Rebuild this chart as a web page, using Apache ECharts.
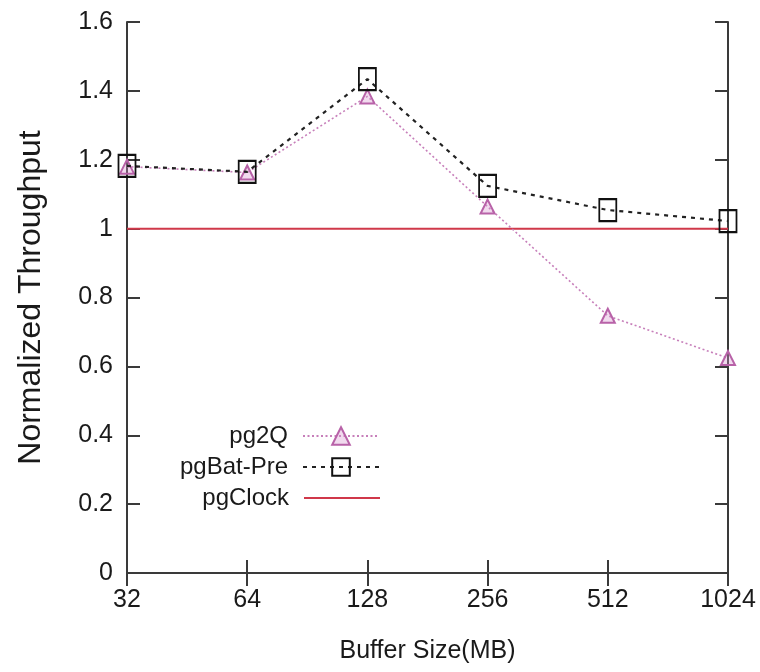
<!DOCTYPE html>
<html>
<head>
<meta charset="utf-8">
<script src="https://cdn.jsdelivr.net/npm/echarts@6/dist/echarts.min.js"></script>
<style>
html,body{margin:0;padding:0;background:#fff;}
#c{width:760px;height:672px;}
</style>
</head>
<body>
<div id="c"></div>
<script>
var categories = ['32', '64', '128', '256', '512', '1024'];
var pg2Q = [1.18, 1.163, 1.384, 1.064, 0.747, 0.624];
var pgBatPre = [1.182, 1.165, 1.434, 1.124, 1.054, 1.022];
var pgClock = [1, 1, 1, 1, 1, 1];
var yTicks = { min: 0, max: 1.6, interval: 0.2 };

var FONT = 'Liberation Sans';
var axisColor = '#3a3a3a';
var textColor = '#1a1a1a';

var chart = echarts.init(document.getElementById('c'), null, { renderer: 'canvas' });

function legendFor(name, top, extra) {
  var l = {
    data: [name],
    right: 380,
    top: top,
    orient: 'vertical',
    align: 'right',
    itemWidth: 76,
    itemHeight: 22,
    padding: 0,
    textStyle: { fontFamily: FONT, fontSize: 24, color: textColor, padding: [0, 10, 0, 0] },
    selectedMode: false
  };
  if (extra) { for (var k in extra) { l[k] = extra[k]; } }
  return l;
}

var option = {
  animation: false,
  backgroundColor: '#fff',
  grid: { left: 127, right: 32, top: 22, bottom: 99, outerBoundsMode: 'none', containLabel: false },
  legend: [
    legendFor('pg2Q', 424),
    legendFor('pgBat-Pre', 455),
    legendFor('pgClock', 486, { itemHeight: 2, data: [{ name: 'pgClock', icon: 'rect' }] })
  ],
  xAxis: [
    {
      type: 'category',
      data: categories,
      boundaryGap: false,
      position: 'bottom',
      name: 'Buffer Size(MB)',
      nameLocation: 'middle',
      nameGap: 66,
      nameTextStyle: { fontFamily: FONT, fontSize: 25, color: textColor },
      axisLine: { show: true, lineStyle: { color: axisColor, width: 2 } },
      axisTick: { show: true, inside: true, length: 13, lineStyle: { color: axisColor, width: 2 } },
      axisLabel: { fontFamily: FONT, fontSize: 25, color: textColor, margin: 15 },
      splitLine: { show: false }
    },
    {
      type: 'category',
      data: categories,
      boundaryGap: false,
      position: 'top',
      axisLine: { show: true, lineStyle: { color: axisColor, width: 2 } },
      axisTick: { show: true, inside: true, length: 13, lineStyle: { color: axisColor, width: 2 } },
      axisLabel: { show: false },
      splitLine: { show: false }
    }
  ],
  yAxis: [
    {
      type: 'value',
      min: yTicks.min,
      max: yTicks.max,
      interval: yTicks.interval,
      position: 'left',
      name: 'Normalized Throughput',
      nameLocation: 'middle',
      nameGap: 80,
      nameRotate: 90,
      nameTextStyle: { fontFamily: FONT, fontSize: 32, color: textColor },
      axisLine: { show: true, lineStyle: { color: axisColor, width: 2 } },
      axisTick: { show: true, inside: true, length: 13, lineStyle: { color: axisColor, width: 2 } },
      axisLabel: { fontFamily: FONT, fontSize: 25, color: textColor, margin: 14 },
      splitLine: { show: false }
    },
    {
      type: 'value',
      min: yTicks.min,
      max: yTicks.max,
      interval: yTicks.interval,
      position: 'right',
      axisLine: { show: true, lineStyle: { color: axisColor, width: 2 } },
      axisTick: { show: true, inside: true, length: 13, lineStyle: { color: axisColor, width: 2 } },
      axisLabel: { show: false },
      splitLine: { show: false }
    }
  ],
  series: [
    {
      name: 'pgClock',
      type: 'line',
      data: pgClock,
      showSymbol: false,
      symbol: 'none',
      z: 1,
      lineStyle: { color: '#d0384a', width: 2, type: 'solid' },
      itemStyle: { color: '#d0384a' }
    },
    {
      name: 'pg2Q',
      type: 'line',
      data: pg2Q,
      symbol: 'triangle',
      symbolSize: [14, 14],
      z: 2,
      lineStyle: { color: '#c77fba', width: 1.6, type: [2, 2.5] },
      itemStyle: { color: 'rgba(214,150,205,0.35)', borderColor: '#b862a8', borderWidth: 2 }
    },
    {
      name: 'pgBat-Pre',
      type: 'line',
      data: pgBatPre,
      symbol: 'rect',
      symbolSize: [17, 22],
      z: 3,
      lineStyle: { color: '#222', width: 2.2, type: [4, 5] },
      itemStyle: { color: 'rgba(0,0,0,0)', borderColor: '#111', borderWidth: 2 }
    }
  ]
};

chart.setOption(option);
</script>
</body>
</html>
